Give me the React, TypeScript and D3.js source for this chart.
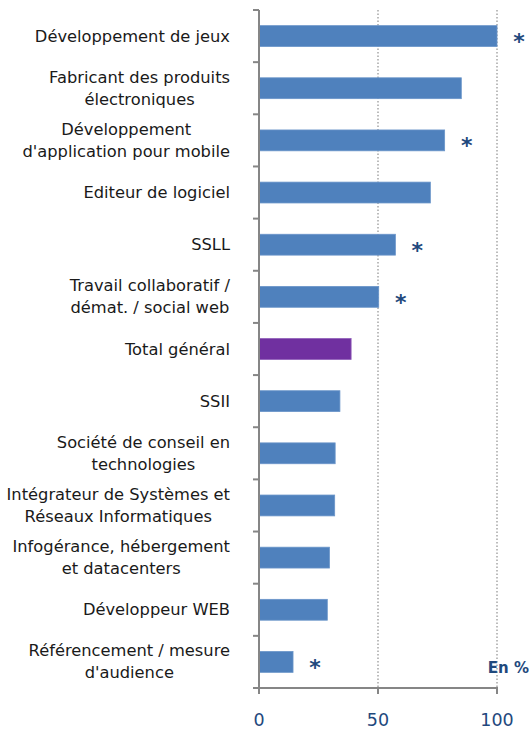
import React from "react";
import * as d3 from "d3";

const categories: string[] = [
  "Développement de jeux",
  "Fabricant des produits\nélectroniques",
  "Développement\nd'application pour mobile",
  "Editeur de logiciel",
  "SSLL",
  "Travail collaboratif /\ndémat. / social web",
  "Total général",
  "SSII",
  "Société de conseil en\ntechnologies",
  "Intégrateur de Systèmes et\nRéseaux Informatiques",
  "Infogérance, hébergement\net datacenters",
  "Développeur WEB",
  "Référencement / mesure\nd'audience",
];
const values: number[] = [100, 85, 78, 72, 57.3, 50.3, 38.7, 34, 32, 31.8, 29.6, 28.7, 14.3];
const starred: boolean[] = [true, false, true, false, true, true, false, false, false, false, false, false, true];
const highlight: string = "Total général";
const xTicks: number[] = [0, 50, 100];
const unitLabel = "En %";

const W = 529;
const H = 731;
const FONT = "'DejaVu Sans', sans-serif";
const LABEL_SIZE = 16.3;

let ctx: CanvasRenderingContext2D | null = null;
function measure(s: string): number {
  if (typeof document === "undefined") return s.length * LABEL_SIZE * 0.55;
  if (!ctx) ctx = document.createElement("canvas").getContext("2d");
  if (!ctx) return s.length * LABEL_SIZE * 0.55;
  ctx.font = `${LABEL_SIZE}px 'DejaVu Sans'`;
  return ctx.measureText(s).width;
}

export default function App() {
  const x = d3.scaleLinear().domain([0, 100]).range([259, 497]);
  const y = d3.scaleBand<string>().domain(categories).range([10, 688]).paddingInner(0.6).paddingOuter(0.3);
  const bounds = d3.range(categories.length + 1).map((i) => 10 + i * (678 / categories.length));
  const labelRight = 230;

  return (
    <svg width={W} height={H} style={{ position: "absolute", left: 0, top: 0, background: "#fff" }}>
      {xTicks.filter((t) => t > 0).map((t) => (
        <line key={"g" + t} x1={x(t)} x2={x(t)} y1={10} y2={688} stroke="#a6a6a6" strokeWidth={1.5} strokeDasharray="1.5 2" />
      ))}
      {categories.map((c, i) => (
        <rect key={c} x={x(0)} y={y(c)} width={x(values[i]) - x(0)} height={y.bandwidth()}
          fill={c === highlight ? "#7030A0" : "#4F81BD"} stroke={c === highlight ? "#8E5CB8" : "#6A95C9"} strokeWidth={0.8} />
      ))}
      {categories.map((c, i) => starred[i] ? (
        <text key={"s" + c} x={x(values[i]) + 22} y={(y(c) as number) + y.bandwidth() / 2 + 13}
          textAnchor="middle" fontFamily={FONT} fontSize={22} fontWeight="bold" fill="#1F497D">*</text>
      ) : null)}
      <line x1={259} x2={259} y1={10} y2={689} stroke="#868686" strokeWidth={2} />
      {bounds.map((b, i) => (
        <line key={"yt" + i} x1={253} x2={259} y1={b} y2={b} stroke="#868686" strokeWidth={2} />
      ))}
      <line x1={258} x2={498} y1={688} y2={688} stroke="#868686" strokeWidth={2} />
      {xTicks.map((t) => (
        <g key={"xt" + t}>
          <line x1={x(t)} x2={x(t)} y1={688} y2={694} stroke="#868686" strokeWidth={2} />
          <text x={x(t)} y={726} textAnchor="middle" fontFamily={FONT} fontSize={17.5} fill="#1F497D">{t}</text>
        </g>
      ))}
      {categories.map((c) => {
        const lines = c.split("\n");
        const cy = (y(c) as number) + y.bandwidth() / 2;
        const lh = 22;
        const maxW = Math.max(...lines.map(measure));
        const cx = labelRight - maxW / 2;
        return (
          <text key={"l" + c} textAnchor="middle" fontFamily={FONT} fontSize={LABEL_SIZE} fill="#1a1a1a">
            {lines.map((ln, j) => (
              <tspan key={j} x={cx} y={cy + (j - (lines.length - 1) / 2) * lh + 5.5}>{ln}</tspan>
            ))}
          </text>
        );
      })}
      <text x={529} y={673} textAnchor="end" fontFamily={FONT} fontSize={15} fontWeight="bold" fill="#1F497D">{unitLabel}</text>
    </svg>
  );
}
